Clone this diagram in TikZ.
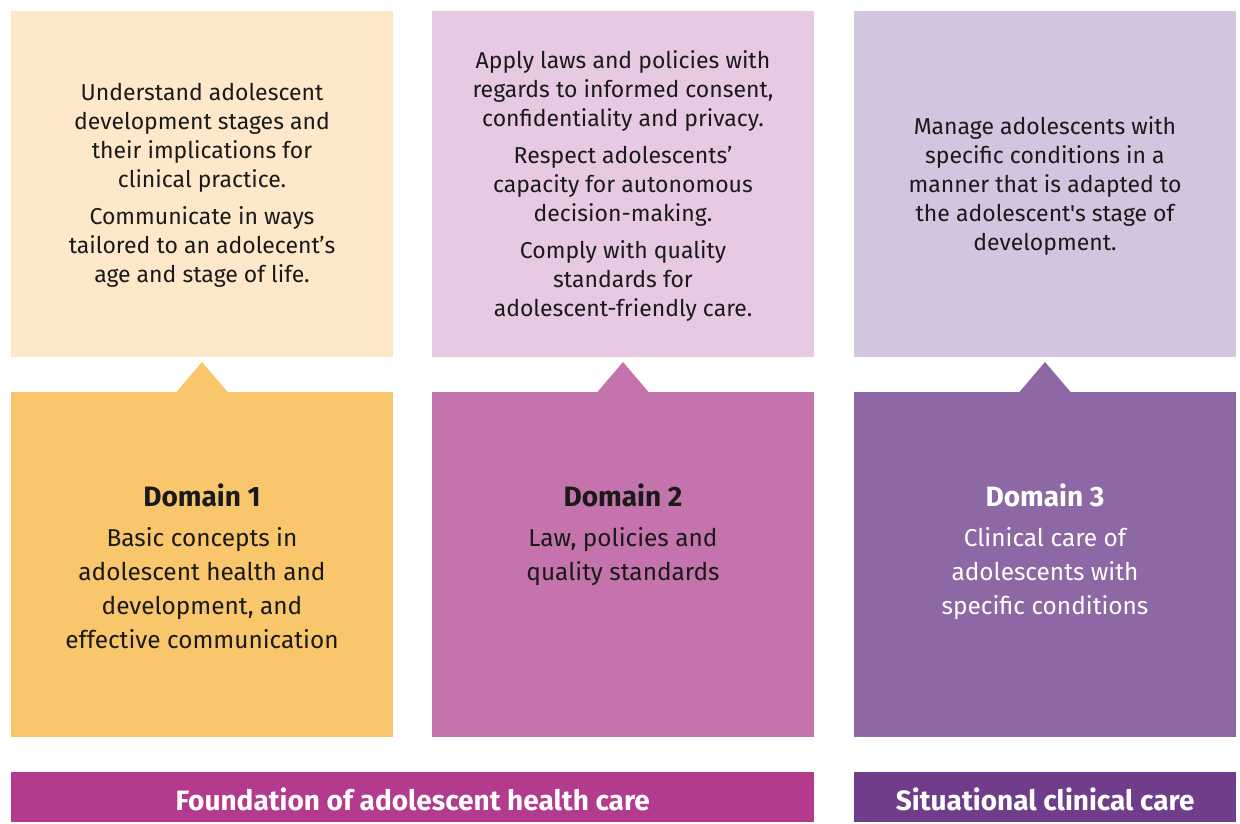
\documentclass[tikz,border=0pt]{standalone}
\usepackage{fontspec}
\setmainfont{Fira Sans}[Ligatures=TeXOff]
\definecolor{topA}{HTML}{FDE8CA}
\definecolor{botA}{HTML}{FAC66C}
\definecolor{topB}{HTML}{E8C9E3}
\definecolor{botB}{HTML}{C473AC}
\definecolor{topC}{HTML}{D3C4DF}
\definecolor{botC}{HTML}{8E68A4}
\definecolor{barA}{HTML}{B33A8C}
\definecolor{barB}{HTML}{6F3D8A}
\definecolor{txt}{HTML}{1A1A1A}
\tikzset{
  topbox/.style={draw=none,minimum width=382pt,minimum height=346pt,inner sep=0pt,anchor=north west},
  botbox/.style={draw=none,minimum width=382pt,minimum height=345pt,inner sep=0pt,anchor=north west},
  toptext/.style={align=center,text=txt,font=\fontsize{23}{29}\selectfont,inner sep=0pt},
  bottext/.style={align=center,font=\fontsize{24.4}{34}\selectfont,inner sep=0pt,anchor=north},
  bartext/.style={text=white,font=\fontsize{28}{30}\selectfont\bfseries,inner sep=0pt},
  barbox/.style={minimum height=50pt,inner sep=0pt,anchor=north west}
}
\newcommand{\domhead}[1]{{\fontsize{28}{30}\selectfont\bfseries #1}}
\begin{document}
\begin{tikzpicture}[x=1pt,y=-1pt]
\useasboundingbox (0,0) rectangle (1240,823);
% top boxes
\node[topbox,fill=topA] (tA) at (11,11) {};
\node[topbox,fill=topB] (tB) at (432,11) {};
\node[topbox,fill=topC] (tC) at (854,11) {};
% bottom boxes
\node[botbox,fill=botA] (bA) at (11,392) {};
\node[botbox,fill=botB] (bB) at (432,392) {};
\node[botbox,fill=botC] (bC) at (854,392) {};
% triangles
\fill[botA] (176,392.5) -- (202,362) -- (228,392.5) -- cycle;
\fill[botB] (597,392.5) -- (623,362) -- (649,392.5) -- cycle;
\fill[botC] (1019,392.5) -- (1045,362) -- (1071,392.5) -- cycle;
% top texts
\node[toptext] (xA) at (202,185.5) {Understand adolescent\\development stages and\\their implications for\\clinical practice.\\[8pt]Communicate in ways\\tailored to an adolecent’s\\age and stage of life.};
\node[toptext] (xB) at (623,185.5) {Apply laws and policies with\\regards to informed consent,\\confidentiality and privacy.\\[8pt]Respect adolescents’\\capacity for autonomous\\decision-making.\\[8pt]Comply with quality\\standards for\\adolescent-friendly care.};
\node[toptext] (xC) at (1045,185.5) {Manage adolescents with\\specific conditions in a\\manner that is adapted to\\the adolescent's stage of\\development.};
% bottom texts
\node[bottext,text=txt] (dA) at (202,484) {\domhead{Domain 1}\\[6pt]Basic concepts in\\adolescent health and\\development, and\\effective communication};
\node[bottext,text=txt] (dB) at (623,484) {\domhead{Domain 2}\\[6pt]Law, policies and\\quality standards};
\node[bottext,text=white] (dC) at (1045,484) {\domhead{Domain 3}\\[6pt]Clinical care of\\adolescents with\\specific conditions};
% bars
\node[barbox,fill=barA,minimum width=803pt] (barL) at (11,772) {};
\node[barbox,fill=barB,minimum width=382pt] (barR) at (854,772) {};
\node[bartext] (lL) at ([yshift=-2.5pt]barL.center) {Foundation of adolescent health care};
\node[bartext] (lR) at ([yshift=-2.5pt]barR.center) {Situational clinical care};
\end{tikzpicture}
\end{document}
